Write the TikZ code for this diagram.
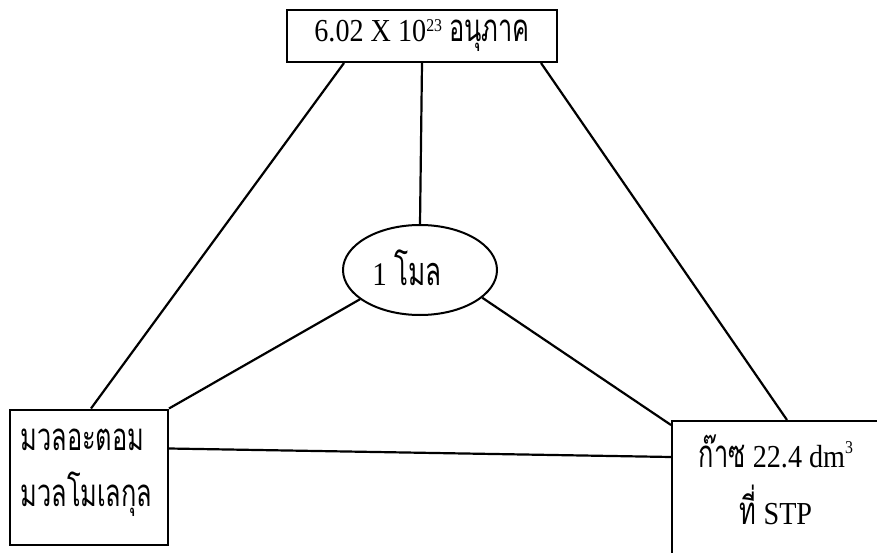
\documentclass[tikz,border=0pt]{standalone}
\usepackage{fontspec}
\setmainfont{Liberation Serif}[FakeStretch=0.88]
\newfontfamily\thaifont[Script=Thai,FakeStretch=0.66,Scale=1.2]{Loma}
\usetikzlibrary{shapes.geometric}
\newcommand{\supup}[2]{\raisebox{#1}{\fontsize{18}{18}\selectfont #2}}
\begin{document}
\begin{tikzpicture}[x=1pt,y=-1pt,
  boxst/.style={draw,line width=2pt,inner sep=0pt},
  big/.style={font=\fontsize{32}{36}\selectfont},
  conn/.style={line width=2.2pt}]
\useasboundingbox[fill=white] (0,0) rectangle (877,553);
\node[boxst,big,minimum width=270pt,minimum height=52pt] (top) at (422,36)
  {6.02 X 10\supup{10pt}{23} {\thaifont อนุภาค}};
\node[boxst,ellipse,minimum width=154pt,minimum height=90pt] (mol) at (420,270) {};
\node[font=\fontsize{33}{36}\selectfont] (moltext) at (407,268) {1 {\thaifont โมล}};
\node[boxst,minimum width=158pt,minimum height=135pt] (left) at (89,477) {};
\node[big,align=left,anchor=west] (ltext) at (17,473)
  {{\thaifont มวลอะตอม}\\[20pt]{\thaifont มวลโมเลกุล}};
\node[boxst,minimum width=214pt,minimum height=140pt,anchor=north west] (right) at (671,420) {};
\node[big,align=center] (rtext) at (776,480)
  {{\thaifont ก๊าซ} 22.4 dm\supup{14pt}{3}\\[16pt]{\thaifont ที่} STP};
\coordinate (tl) at ([xshift=58pt]top.south west);
\coordinate (tr) at ([xshift=-17pt]top.south east);
\coordinate (lt) at ([xshift=82pt]left.north west);
\coordinate (rt) at ([xshift=116pt]right.north west);
\draw[conn] (tl) -- (lt);
\draw[conn] (tr) -- (rt);
\draw[conn] (top.south) -- (mol.north);
\draw[conn] (mol.-154) -- (left.north east);
\draw[conn] (mol.-24) -- ([yshift=-5pt]right.north west);
\draw[conn] ([yshift=-40pt]left.north east) -- ([yshift=-37pt]right.north west);
\end{tikzpicture}
\end{document}
